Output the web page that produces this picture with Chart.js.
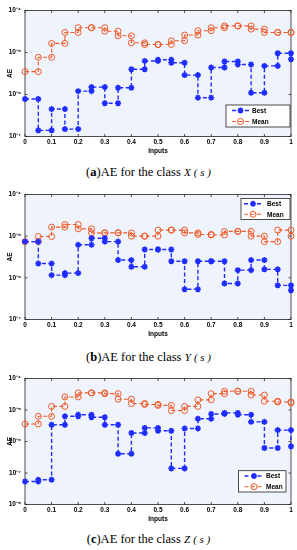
<!DOCTYPE html>
<html>
<head>
<meta charset="utf-8">
<script src="https://cdn.jsdelivr.net/npm/chart.js@4.4.1/dist/chart.umd.min.js"></script>
<style>
  html, body { margin: 0; padding: 0; background: #fff; }
  body { width: 297px; height: 550px; position: relative; overflow: hidden; }
  canvas { position: absolute; left: 0; }
  .cap { position: absolute; left: 0; width: 297px; text-align: center; font-family: "Liberation Serif", serif; font-size: 12.5px; line-height: 14px; color: #000; }
  .cap i { font-size: 11px; }
</style>
</head>
<body>
<canvas id="chartX" width="297" height="160" style="top:0px"></canvas>
<div class="cap" style="top:165px">(<b>a</b>)AE for the class <i>X</i> <i>( s )</i></div>
<canvas id="chartY" width="297" height="159" style="top:184px"></canvas>
<div class="cap" style="top:350px">(<b>b</b>)AE for the class <i>Y</i> <i>( s )</i></div>
<canvas id="chartZ" width="297" height="160" style="top:368px"></canvas>
<div class="cap" style="top:532px">(<b>c</b>)AE for the class <i>Z</i> <i>( s )</i></div>

<script>
// stair vertices, one value per 0.05 step (last one is the end drop at x = 1)
const inputs = [0, 0.05, 0.1, 0.15, 0.2, 0.25, 0.3, 0.35, 0.4, 0.45, 0.5,
                0.55, 0.6, 0.65, 0.7, 0.75, 0.8, 0.85, 0.9, 0.95, 1];
const xTicks = [0, 0.1, 0.2, 0.3, 0.4, 0.5, 0.6, 0.7, 0.8, 0.9, 1];
const yTicksXY = [1e-7, 1e-6, 1e-5, 1e-4];
const yTicksZ = [1e-8, 1e-7, 1e-6, 1e-5, 1e-4];

const bestX = [7.8e-7, 1.4e-7, 4.5e-7, 1.5e-7, 1.2e-6, 1.5e-6, 6.2e-7, 1.45e-6, 4.0e-6, 6.3e-6, 6.7e-6,
               5.7e-6, 2.9e-6, 8.4e-7, 4.4e-6, 6.1e-6, 5.2e-6, 1.1e-6, 4.8e-6, 9.6e-6, 6.9e-6];
const meanX = [3.5e-6, 7.7e-6, 1.65e-5, 3.0e-5, 3.9e-5, 3.9e-5, 3.2e-5, 2.5e-5, 1.7e-5, 1.55e-5, 1.55e-5,
               1.9e-5, 2.6e-5, 3.3e-5, 3.9e-5, 4.3e-5, 4.3e-5, 3.6e-5, 3.0e-5, 3.0e-5, 3.0e-5];

const bestY = [7.4e-6, 2.2e-6, 1.16e-6, 1.3e-6, 6.2e-6, 8.9e-6, 7.4e-6, 2.67e-6, 1.84e-6, 4.8e-6, 4.8e-6,
               2.5e-6, 5.3e-7, 2.5e-6, 2.5e-6, 7.3e-7, 1.53e-6, 2.67e-6, 1.6e-6, 6.6e-7, 5.0e-7];
const meanY = [7.4e-6, 9.8e-6, 1.65e-5, 1.9e-5, 1.5e-5, 1.2e-5, 1.2e-5, 1.2e-5, 1.0e-5, 1.0e-5, 1.4e-5,
               1.4e-5, 1.2e-5, 1.1e-5, 1.07e-5, 1.3e-5, 1.3e-5, 1.0e-5, 7.4e-6, 1.4e-5, 1.0e-5];

const bestZ = [5.4e-8, 6.1e-8, 3.4e-6, 6.3e-6, 7.1e-6, 5.9e-6, 3.4e-6, 4.1e-7, 1.86e-6, 2.7e-6, 2.2e-6,
               1.4e-7, 2.6e-6, 5.3e-6, 7.5e-6, 8.1e-6, 7.1e-6, 4.2e-6, 6.2e-7, 2.3e-6, 7.0e-7];
const meanZ = [3.6e-6, 6.3e-6, 1.3e-5, 2.6e-5, 3.5e-5, 3.5e-5, 3.3e-5, 2.2e-5, 1.6e-5, 1.5e-5, 1.4e-5,
               9.6e-6, 1.3e-5, 2.1e-5, 3.3e-5, 3.95e-5, 3.95e-5, 3.0e-5, 1.9e-5, 1.8e-5, 1.7e-5];

const BLUE = '#1f2cff';
const ORANGE = '#f05a28';
const AXIS_FONT = "'Liberation Sans Narrow', 'Liberation Sans', Arial, sans-serif";

function stairs(vals) {
    const pts = [];
    for (let i = 0; i < vals.length; i++) {
        if (i > 0) pts.push({ x: inputs[i], y: vals[i - 1] });
        pts.push({ x: inputs[i], y: vals[i] });
    }
    return pts;
}

const supMap = { '-': '\u207B', '0': '\u2070', '1': '\u00B9', '2': '\u00B2', '3': '\u00B3', '4': '\u2074',
                 '5': '\u2075', '6': '\u2076', '7': '\u2077', '8': '\u2078', '9': '\u2079' };
function powLabel(v) {
    const e = String(Math.round(Math.log10(v)));
    return '10' + e.split('').map(c => supMap[c]).join('');
}

// light blue plot background, box and inward tick marks
const framePlugin = {
    id: 'frame',
    beforeDatasetsDraw(chart) {
        const { ctx, chartArea: a, scales } = chart;
        ctx.save();
        ctx.fillStyle = '#eff3fb';
        ctx.fillRect(a.left, a.top, a.right - a.left, a.bottom - a.top);
        ctx.strokeStyle = '#222';
        ctx.lineWidth = 0.8;
        ctx.strokeRect(a.left, a.top, a.right - a.left, a.bottom - a.top);
        ctx.beginPath();
        scales.x.ticks.forEach(t => {
            const px = scales.x.getPixelForValue(t.value);
            ctx.moveTo(px, a.bottom); ctx.lineTo(px, a.bottom - 2.5);
            ctx.moveTo(px, a.top); ctx.lineTo(px, a.top + 2.5);
        });
        scales.y.ticks.forEach(t => {
            const py = scales.y.getPixelForValue(t.value);
            ctx.moveTo(a.left, py); ctx.lineTo(a.left + 2.5, py);
            ctx.moveTo(a.right, py); ctx.lineTo(a.right - 2.5, py);
        });
        ctx.stroke();
        ctx.restore();
    }
};

// legend box drawn inside the plot
const boxLegend = {
    id: 'boxLegend',
    afterDraw(chart, args, opts) {
        const { ctx, chartArea: a } = chart;
        const x = a.right - opts.right - opts.w;
        const y = opts.top != null ? a.top + opts.top : a.bottom - opts.bottom - opts.h;
        ctx.save();
        ctx.fillStyle = '#fff';
        ctx.fillRect(x, y, opts.w, opts.h);
        ctx.strokeStyle = '#222';
        ctx.lineWidth = 0.8;
        ctx.strokeRect(x, y, opts.w, opts.h);
        chart.data.datasets.forEach((ds, i) => {
            const cy = y + opts.h * (2 * i + 1) / 4;
            const x0 = x + opts.l0, x1 = x + opts.l1;
            ctx.strokeStyle = ds.borderColor;
            ctx.lineWidth = ds.borderWidth;
            ctx.setLineDash(ds.borderDash);
            ctx.beginPath();
            ctx.moveTo(x0, cy); ctx.lineTo(x1, cy);
            ctx.stroke();
            ctx.setLineDash([]);
            ctx.fillStyle = 'rgba(0,0,0,0)';
            ctx.lineWidth = ds.pointBorderWidth;
            Chart.helpers.drawPoint(ctx, { pointStyle: ds.pointStyle, radius: ds.pointRadius,
                                           borderWidth: ds.pointBorderWidth, rotation: 0 }, (x0 + x1) / 2, cy);
            ctx.fillStyle = '#000';
            ctx.font = 'bold 6.5px ' + AXIS_FONT;
            ctx.textBaseline = 'middle';
            ctx.fillText(ds.label, x + opts.tx, cy + 0.5);
        });
        ctx.restore();
    }
};

function makeChart(id, best, mean, yTicks, legendOpts) {
    const ctx = document.getElementById(id).getContext('2d');
    return new Chart(ctx, {
        type: 'line',
        data: {
            datasets: [{
                label: 'Best',
                data: stairs(best),
                borderColor: BLUE,
                borderWidth: 1.4,
                borderDash: [4, 2.5],
                pointStyle: 'star',
                pointRadius: 3,
                pointBorderWidth: 1.6,
                pointBorderColor: BLUE,
                pointBackgroundColor: BLUE,
                clip: false
            },
            {
                label: 'Mean',
                data: stairs(mean),
                borderColor: ORANGE,
                borderWidth: 1.1,
                borderDash: [4, 2.5],
                pointStyle: 'circle',
                pointRadius: 3,
                pointBorderWidth: 1,
                pointBorderColor: ORANGE,
                pointBackgroundColor: 'rgba(0,0,0,0)',
                clip: false
            }]
        },
        options: {
            responsive: false,
            animation: false,
            layout: { padding: { top: 10.5, right: 6, left: 0, bottom: 0 } },
            plugins: {
                legend: { display: false },
                tooltip: { enabled: false },
                boxLegend: legendOpts
            },
            scales: {
                x: {
                    type: 'linear',
                    min: 0,
                    max: 1,
                    afterBuildTicks: s => { s.ticks = xTicks.map(v => ({ value: v })); },
                    afterFit: s => { s.height = 23.5; },
                    grid: { display: false, drawTicks: false },
                    border: { display: false },
                    ticks: {
                        callback: v => String(v),
                        color: '#000',
                        font: { family: AXIS_FONT, size: 6.5, weight: 'bold' },
                        padding: 2,
                        maxRotation: 0,
                        autoSkip: false
                    },
                    title: {
                        display: true,
                        text: 'Inputs',
                        color: '#000',
                        font: { family: AXIS_FONT, size: 6.5, weight: 'bold' },
                        padding: { top: 0, bottom: 4.5 }
                    }
                },
                y: {
                    type: 'logarithmic',
                    min: yTicks[0],
                    max: yTicks[yTicks.length - 1],
                    afterBuildTicks: s => { s.ticks = yTicks.map(v => ({ value: v, major: true })); },
                    afterFit: s => { s.width = 25; },
                    grid: { display: false, drawTicks: false },
                    border: { display: false },
                    ticks: {
                        callback: v => powLabel(v),
                        color: '#000',
                        font: { family: AXIS_FONT, size: 6.5, weight: 'bold' },
                        padding: 4
                    },
                    title: {
                        display: true,
                        text: 'AE',
                        color: '#000',
                        font: { family: AXIS_FONT, size: 6.5, weight: 'bold' },
                        padding: { top: 6, bottom: 0 }
                    }
                }
            }
        },
        plugins: [framePlugin, boxLegend]
    });
}

makeChart('chartX', bestX, meanX, yTicksXY,
          { right: 1, bottom: 9.5, w: 64, h: 22, l0: 6, l1: 23, tx: 26 });
makeChart('chartY', bestY, meanY, yTicksXY,
          { right: 1, top: 4, w: 49, h: 21, l0: 3, l1: 21, tx: 26 });
makeChart('chartZ', bestZ, meanZ, yTicksZ,
          { right: 5, bottom: 12.5, w: 47.5, h: 21.3, l0: 6, l1: 25, tx: 27.5 });
</script>
</body>
</html>
